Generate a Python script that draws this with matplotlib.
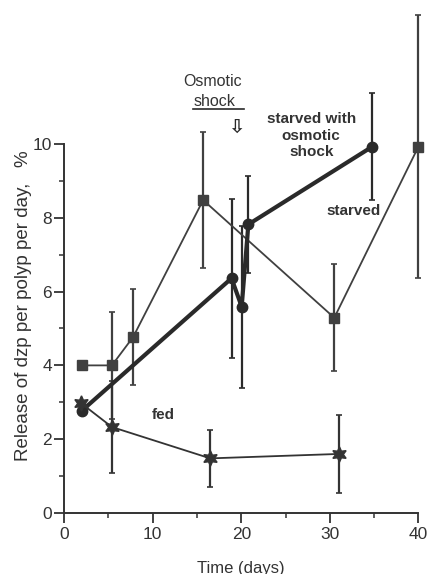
import matplotlib.pyplot as plt

plt.rcParams['font.family'] = ['Liberation Sans', 'DejaVu Sans']

# starved (squares)
starved_x = [2.0, 5.4, 7.8, 15.7, 30.5, 40.0]
starved_y = [4.0, 4.0, 4.77, 8.48, 5.29, 9.93]
starved_err = [0.0, 1.45, 1.3, 1.84, 1.45, 3.57]

# starved with osmotic shock (circles)
shock_x = [2.0, 18.9, 20.05, 20.8, 34.8]
shock_y = [2.77, 6.36, 5.59, 7.82, 9.93]
shock_err = [0.0, 2.16, 2.2, 1.31, 1.45]

# fed (stars)
fed_x = [1.9, 5.4, 16.5, 31.0]
fed_y = [2.98, 2.33, 1.48, 1.6]
fed_err = [0.0, 1.25, 0.77, 1.05]

x_ticks = [0, 10, 20, 30, 40]
y_ticks = [0, 2, 4, 6, 8, 10]

ink = "#2a2a2a"
grey = "#333333"

fig = plt.figure(figsize=(4.28, 5.74), dpi=100)
ax = fig.add_axes([0.1248, 0.1063, 0.8736, 0.8807])

ax.errorbar(starved_x, starved_y, yerr=starved_err, color="#404040", lw=1.3,
            marker="s", ms=7.5, capsize=2, elinewidth=1.6, capthick=1.2, clip_on=False)
ax.errorbar(shock_x, shock_y, yerr=shock_err, color=ink, lw=3.0,
            marker="o", ms=7.5, capsize=2, elinewidth=1.6, capthick=1.2, clip_on=False)
ax.errorbar(fed_x, fed_y, yerr=fed_err, color=grey, lw=1.3,
            marker=(6, 1, 0), ms=11, capsize=2, elinewidth=1.6, capthick=1.2, clip_on=False)

ax.set_xlim(-1.2, 41)
ax.set_ylim(0, 13.7)
ax.spines['top'].set_visible(False)
ax.spines['right'].set_visible(False)
ax.spines['left'].set_position(('data', 0))
ax.spines['left'].set_bounds(0, 10)
ax.spines['bottom'].set_bounds(0, 40)
for s in ('left', 'bottom'):
    ax.spines[s].set_linewidth(1.4)
    ax.spines[s].set_color(grey)

ax.set_xticks(x_ticks)
ax.set_yticks(y_ticks)
ax.set_xticks([5, 15, 25, 35], minor=True)
ax.set_yticks([1, 3, 5, 7, 9], minor=True)
ax.tick_params(which='major', length=7, width=1.3, labelsize=12.5, colors=grey)
ax.tick_params(which='minor', length=3.5, width=1.1, colors=grey)
ax.tick_params(axis='y', which='major', pad=1.5)
ax.tick_params(axis='x', which='major', pad=3)

ax.set_xlabel("Time (days)", fontsize=12, color=grey)
ax.xaxis.set_label_coords(0.5, -0.094)
ax.set_ylabel("Release of dzp per polyp per day,   %", fontsize=13.5, color=grey)
ax.yaxis.set_label_coords(-0.057, 0.41)

ax.text(16.8, 11.68, "Osmotic", ha="center", va="center", fontsize=11.5, color=grey)
ax.text(17.0, 11.14, "shock", ha="center", va="center", fontsize=11.5, color=grey)
ax.plot([14.6, 20.3], [10.95, 10.95], color=ink, lw=1.2)
ax.text(19.4, 10.46, "\u21e9", ha="center", va="center", fontsize=14,
        fontweight="bold", family=['DejaVu Sans'], color=ink)
ax.text(27.9, 10.23, "starved with\nosmotic\nshock", ha="center", va="center",
        fontsize=11, fontweight="bold", linespacing=1.25, color=grey)
ax.text(32.7, 8.19, "starved", ha="center", va="center", fontsize=11,
        fontweight="bold", color=grey)
ax.text(11.2, 2.65, "fed", ha="center", va="center", fontsize=11,
        fontweight="bold", color=grey)

fig.savefig("out.png", dpi=100)
